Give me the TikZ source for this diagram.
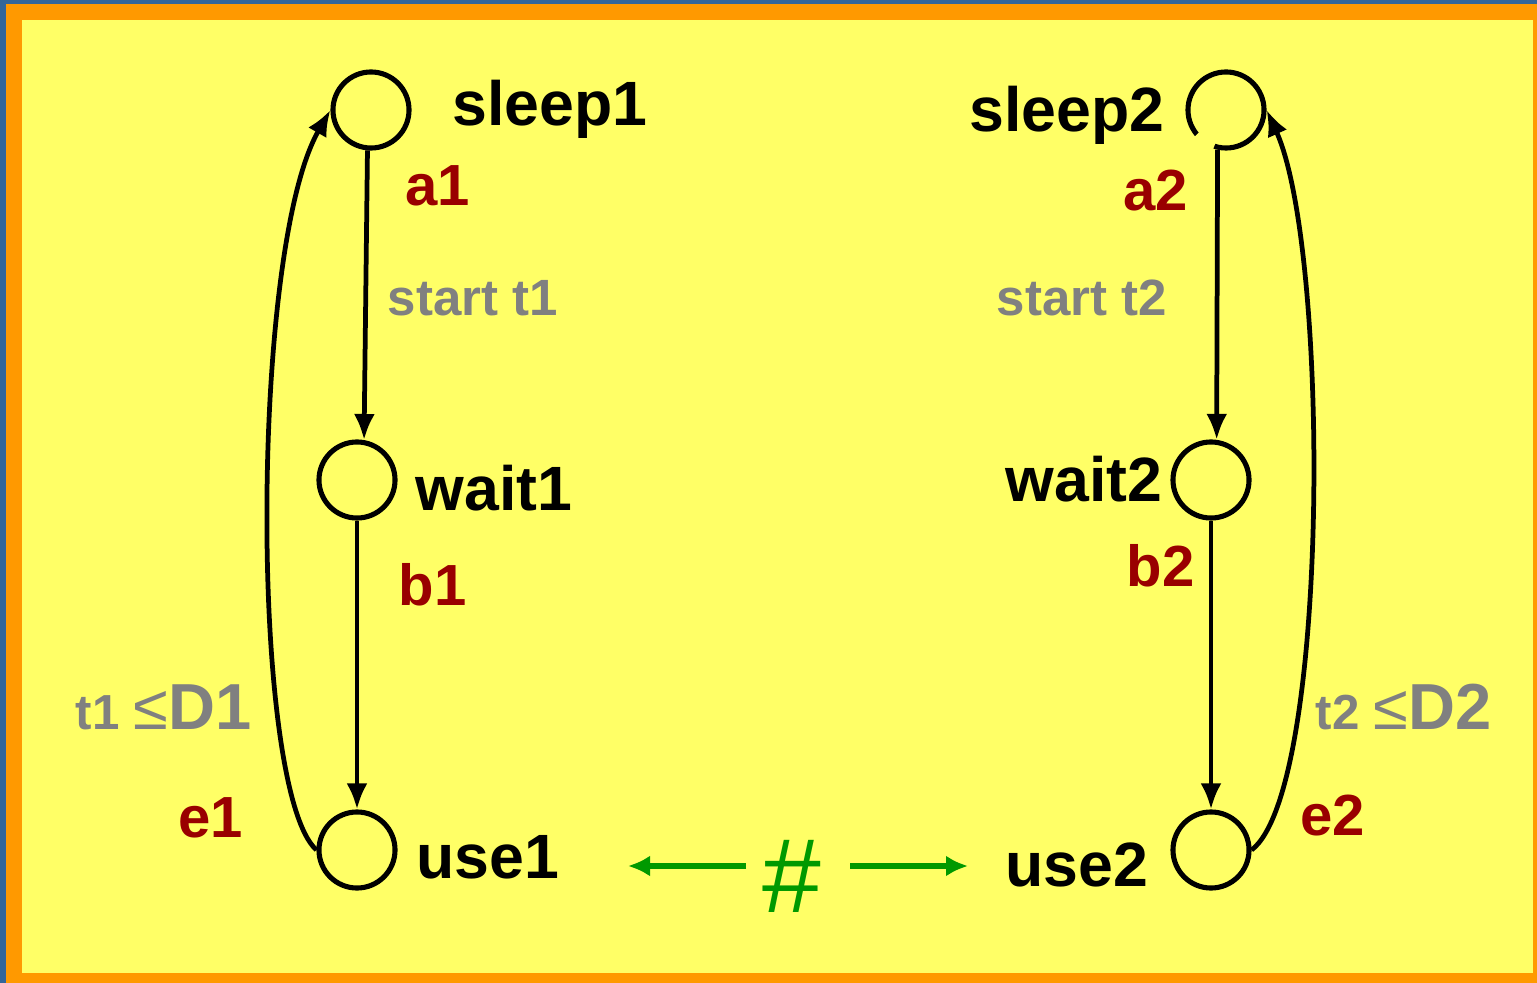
\documentclass[tikz,border=0pt]{standalone}
\usepackage{fontspec}
\setmainfont{Liberation Sans}
\usetikzlibrary{arrows.meta}

\definecolor{bgyellow}{HTML}{FFFF66}
\definecolor{frameorange}{HTML}{FF9900}
\definecolor{frameblue}{HTML}{336699}
\definecolor{actred}{HTML}{990000}
\definecolor{condgray}{HTML}{808080}
\definecolor{mutexgreen}{HTML}{009900}

\begin{document}
\begin{tikzpicture}[x=0.01cm, y=-0.01cm,
	state/.style={circle, draw=black, line width=1.45pt, minimum size=0.76cm, inner sep=0pt},
	trans/.style={black, line width=1.35pt, -{Latex[length=2.6mm, width=2.1mm]}},
	loc/.style={inner sep=0pt, font=\bfseries\fontsize{17.8pt}{21pt}\selectfont},
	act/.style={inner sep=0pt, text=actred, font=\bfseries\fontsize{16.5pt}{19pt}\selectfont},
	cond/.style={inner sep=0pt, text=condgray, font=\bfseries\fontsize{14.5pt}{17pt}\selectfont},
	mutex/.style={mutexgreen, line width=1.6pt, -{Latex[length=2.2mm, width=2.1mm]}}]
	% frame
	\useasboundingbox (0,0) rectangle (1537,983);
	\fill[frameblue] (0,0) rectangle (1537,983);
	\fill[frameorange] (6,4) rectangle (1537,983);
	\fill[bgyellow] (22,20) rectangle (1533,973);
	% process 1
	\node[state] (sleep1) at (371,110) {};
	\node[state] (wait1) at (357,480) {};
	\node[state] (use1) at (357,850) {};
	\draw[trans] (sleep1.265) -- (wait1.80);
	\draw[trans] (wait1) -- (use1);
	\draw[trans] (use1.west) .. controls (250,790) and (250,250) .. (sleep1.west);
	\node[loc, anchor=base west] (sleep1lbl) at (452,126) {sleep1};
	\node[loc, anchor=base west] (wait1lbl) at (415,511) {wait1};
	\node[loc, anchor=base west] (use1lbl) at (416,878) {use1};
	\node[act, anchor=base west] (a1) at (405,206) {a1};
	\node[act, anchor=base west] (b1) at (398,606) {b1};
	\node[act, anchor=base west] (e1) at (178,837) {e1};
	\node[cond, anchor=base west] (start1) at (387,316) {start t1};
	\node[cond, anchor=base west] (dead1) at (75,729)
		{{\fontsize{14pt}{16pt}\selectfont t1} {\mdseries\fontsize{18pt}{21pt}\selectfont ≤}{\fontsize{18.5pt}{21pt}\selectfont D1}};
	% process 2
	\node[state] (sleep2) at (1226,110) {};
	\node[state] (wait2) at (1211,480) {};
	\node[state] (use2) at (1211,850) {};
	\draw[bgyellow, line width=2.6pt] (sleep2.center) ++(108:38) arc (108:140:38);
	\draw[trans] (sleep2.258) -- (wait2.82);
	\draw[trans] (wait2) -- (use2);
	\draw[trans] (use2.east) .. controls (1330,790) and (1330,250) .. (sleep2.east);
	\node[loc, anchor=base east] (sleep2lbl) at (1165,132) {sleep2};
	\node[loc, anchor=base west] (wait2lbl) at (1005,502) {wait2};
	\node[loc, anchor=base west] (use2lbl) at (1005,886) {use2};
	\node[act, anchor=base west] (a2) at (1123,211) {a2};
	\node[act, anchor=base west] (b2) at (1126,587) {b2};
	\node[act, anchor=base west] (e2) at (1300,835) {e2};
	\node[cond, anchor=base west] (start2) at (996,316) {start t2};
	\node[cond, anchor=base west] (dead2) at (1315,729)
		{{\fontsize{14pt}{16pt}\selectfont t2} {\mdseries\fontsize{18pt}{21pt}\selectfont ≤}{\fontsize{18.5pt}{21pt}\selectfont D2}};
	% mutual exclusion
	\node[inner sep=0pt, text=mutexgreen, font=\fontsize{30pt}{34pt}\selectfont] (mutex) at (792,876) {\#};
	\coordinate (mutexl) at (628,866);
	\coordinate (mutexr) at (968,866);
	\draw[mutex] (746,866) -- (mutexl);
	\draw[mutex] (850,866) -- (mutexr);
\end{tikzpicture}
\end{document}
